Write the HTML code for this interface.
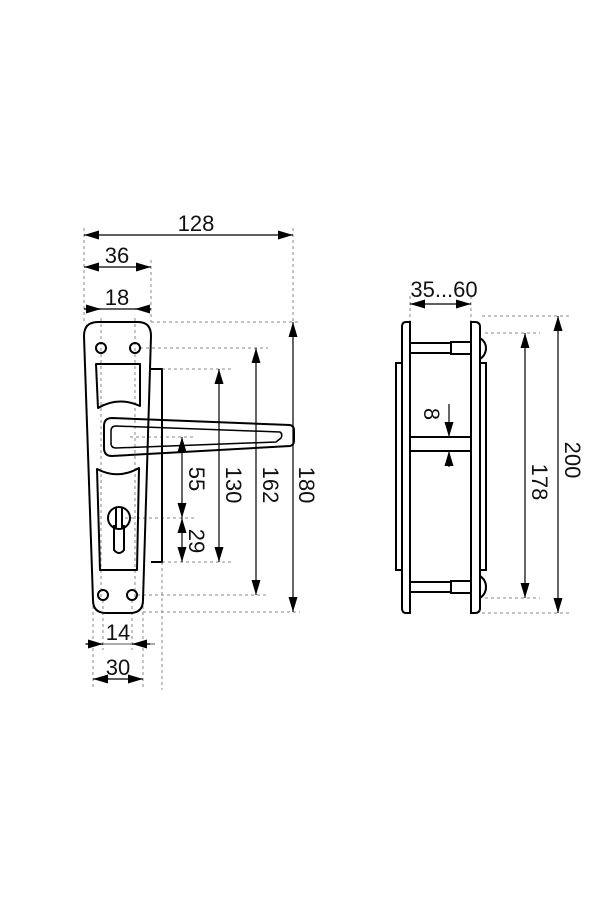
<!DOCTYPE html>
<html><head><meta charset="utf-8"><style>
html,body{margin:0;padding:0;background:#fff;}
svg{display:block;}
text{font-family:"Liberation Sans",sans-serif;font-size:22px;fill:#111;}
</style></head><body>
<svg width="600" height="900" viewBox="0 0 600 900" xmlns="http://www.w3.org/2000/svg">
<defs>
<marker id="a" viewBox="0 0 10 6" refX="10" refY="3" markerWidth="15" markerHeight="9" markerUnits="userSpaceOnUse" orient="auto-start-reverse"><path d="M0,0L10,3L0,6z" fill="#000"/></marker>
</defs>
<g stroke="#888" stroke-width="1" stroke-dasharray="3,3" fill="none">
<line x1="84" y1="228" x2="84" y2="322"/>
<line x1="151" y1="260" x2="151" y2="322"/>
<line x1="293" y1="228" x2="293" y2="322"/>
<line x1="101" y1="318" x2="101" y2="600"/>
<line x1="135" y1="318" x2="135" y2="600"/>
<line x1="151" y1="322" x2="300" y2="322"/>
<line x1="140" y1="348" x2="268" y2="348"/>
<line x1="162" y1="369" x2="232" y2="369"/>
<line x1="130" y1="437" x2="195" y2="437"/>
<line x1="125" y1="518" x2="195" y2="518"/>
<line x1="162" y1="562" x2="232" y2="562"/>
<line x1="137" y1="595" x2="268" y2="595"/>
<line x1="143" y1="612" x2="300" y2="612"/>
<line x1="162" y1="562" x2="162" y2="690"/>
<line x1="93" y1="600" x2="93" y2="690"/>
<line x1="143" y1="600" x2="143" y2="690"/>
<line x1="103" y1="600" x2="103" y2="650"/>
<line x1="132" y1="600" x2="132" y2="650"/>
<line x1="410" y1="296" x2="410" y2="322"/>
<line x1="471" y1="296" x2="471" y2="322"/>
<line x1="482" y1="316" x2="570" y2="316"/>
<line x1="485" y1="333" x2="540" y2="333"/>
<line x1="485" y1="598" x2="540" y2="598"/>
<line x1="482" y1="613" x2="570" y2="613"/>
</g>
<g stroke="#000" stroke-width="1.2" fill="none" marker-start="url(#a)" marker-end="url(#a)">
<line x1="84" y1="235" x2="293" y2="235"/>
<line x1="84" y1="267" x2="151" y2="267"/>
<line x1="293" y1="322" x2="293" y2="612"/>
<line x1="256" y1="348" x2="256" y2="595"/>
<line x1="219" y1="369" x2="219" y2="562"/>
<line x1="182" y1="437" x2="182" y2="518"/>
<line x1="182" y1="518" x2="182" y2="562"/>
<line x1="93" y1="679" x2="143" y2="679"/>
<line x1="410" y1="304" x2="471" y2="304"/>
<line x1="525" y1="333" x2="525" y2="598"/>
<line x1="558" y1="316" x2="558" y2="613"/>
</g>
<g stroke="#000" stroke-width="1.2" fill="none">
<line x1="84" y1="309" x2="151" y2="309"/>
<line x1="84" y1="309" x2="101" y2="309" marker-end="url(#a)"/>
<line x1="151" y1="309" x2="135" y2="309" marker-end="url(#a)"/>
<line x1="85" y1="644" x2="155" y2="644" stroke="#777"/>
<line x1="86" y1="644" x2="103" y2="644" marker-end="url(#a)"/>
<line x1="150" y1="644" x2="132" y2="644" marker-end="url(#a)"/>
<line x1="449" y1="404" x2="449" y2="437" marker-end="url(#a)"/>
<line x1="449" y1="467" x2="449" y2="451" marker-end="url(#a)"/>
</g>
<g stroke="#000" stroke-width="2" fill="none" stroke-linejoin="round">
<path d="M98,322 H138 Q151,322 151,336 L143,600 Q143,613 130,613 H106 Q93,613 93,600 L84,336 Q84,322 98,322 Z"/>
<path d="M151,369 H162 V562 H151"/>
<path d="M96,364 H140 V406 Q118,396 98,408 Z"/>
<path d="M97,469 Q118,480 139,468 L137,570 H100 Z"/>
<circle cx="101" cy="348" r="5"/><circle cx="135" cy="348" r="5"/>
<circle cx="103" cy="595" r="5"/><circle cx="132" cy="595" r="5"/>
<circle cx="119" cy="518" r="11"/>
<path d="M114,525 V550 Q119,556 124,550 V525"/>
<path d="M116,508 V528 M122,508 V528"/>
<path d="M112,418 L290,425 Q294,426 294,430 V441 Q294,445 290,446 L112,456 Q104,456 104,448 V426 Q104,418 112,418 Z"/>
<path d="M116,426 L280,432 Q283,434 281,438 L276,442 L116,448 Q111,448 111,443 V431 Q111,426 116,426 Z" stroke-width="1.5"/>
</g>
<g stroke="#000" stroke-width="2" fill="none">
<path d="M410,322 H406 Q402,322 402,327 V608 Q402,613 406,613 H410 Z"/>
<path d="M471,322 H475 Q480,322 480,327 V608 Q480,613 475,613 H471 Z"/>
<rect x="396" y="363" width="6" height="207"/>
<rect x="480" y="363" width="6" height="207"/>
<line x1="410" y1="343" x2="451" y2="343"/><line x1="410" y1="353" x2="451" y2="353"/>
<rect x="451" y="342" width="20" height="12"/>
<path d="M480,338 Q486,342 486,348 Q486,355 480,359"/>
<line x1="410" y1="582" x2="451" y2="582"/><line x1="410" y1="592" x2="451" y2="592"/>
<rect x="451" y="581" width="20" height="12"/>
<path d="M480,576 Q486,580 486,587 Q486,594 480,598"/>
<line x1="410" y1="437" x2="471" y2="437"/><line x1="410" y1="451" x2="471" y2="451"/>
</g>
<text x="196" y="231" text-anchor="middle">128</text>
<text x="117" y="263" text-anchor="middle">36</text>
<text x="117" y="305" text-anchor="middle">18</text>
<text x="118" y="640" text-anchor="middle">14</text>
<text x="118" y="675" text-anchor="middle">30</text>
<text x="444" y="297" text-anchor="middle">35...60</text>
<text transform="translate(299,485) rotate(90)" text-anchor="middle">180</text>
<text transform="translate(263,485) rotate(90)" text-anchor="middle">162</text>
<text transform="translate(226,485) rotate(90)" text-anchor="middle">130</text>
<text transform="translate(189,479) rotate(90)" text-anchor="middle">55</text>
<text transform="translate(189,541) rotate(90)" text-anchor="middle">29</text>
<text transform="translate(424,414) rotate(90)" text-anchor="middle">8</text>
<text transform="translate(532,482) rotate(90)" text-anchor="middle">178</text>
<text transform="translate(565,460) rotate(90)" text-anchor="middle">200</text>
</svg>
</body></html>
